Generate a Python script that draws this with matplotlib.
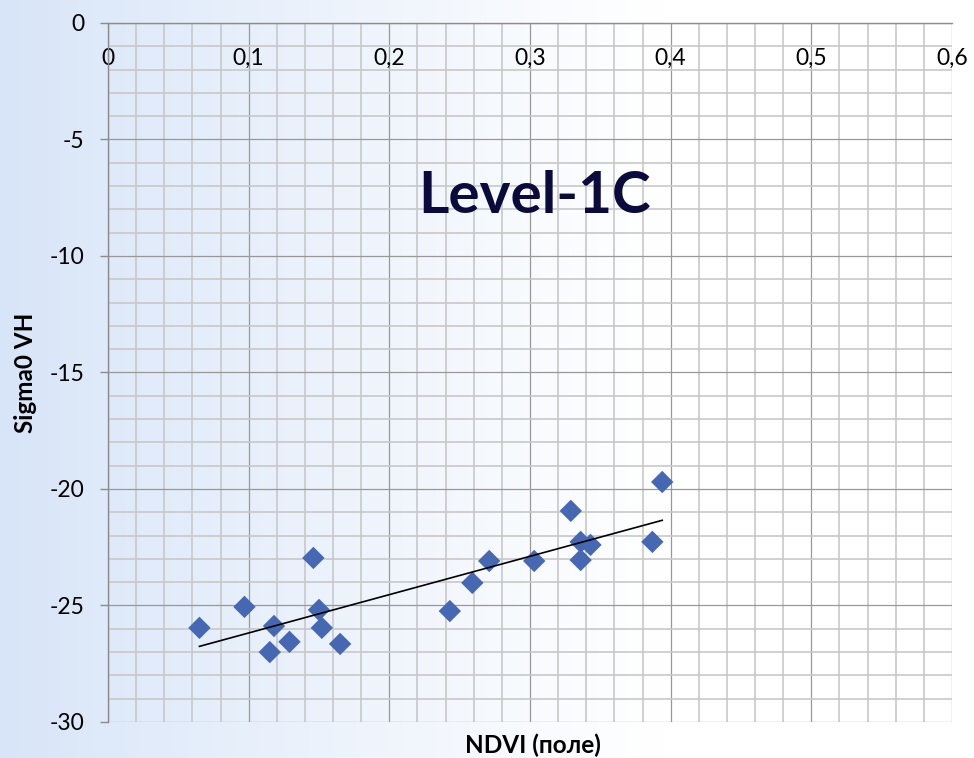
import numpy as np
import matplotlib
matplotlib.use("Agg")
import matplotlib.pyplot as plt
from matplotlib.ticker import MultipleLocator, FuncFormatter

plt.rcParams['font.family'] = ['Lato', 'Open Sans', 'DejaVu Sans']

# NDVI (field) vs Sigma0 VH, Level-1C
ndvi = [0.065, 0.097, 0.118, 0.115, 0.129, 0.146, 0.150, 0.152, 0.165,
        0.243, 0.259, 0.271, 0.303, 0.329, 0.336, 0.343, 0.336, 0.387, 0.394]
sigma0_vh = [-25.96, -25.06, -25.88, -27.0, -26.56, -22.96, -25.19, -25.96, -26.65,
             -25.24, -24.03, -23.09, -23.09, -20.94, -22.27, -22.40, -23.05, -22.27, -19.7]

fig = plt.figure(figsize=(9.74, 7.58), dpi=100)

# soft blue-to-white background across the figure
bg = fig.add_axes([0, 0, 1, 1], zorder=-10)
u = np.linspace(0, 1, 400)
fade = np.clip(1 - u / 0.68, 0, 1) ** 1.1
left = np.array([216, 229, 248]) / 255.0
rgb = 1 - (1 - left)[None, :] * fade[:, None]
bg.imshow(rgb[None, :, :], aspect='auto', extent=[0, 1, 0, 1])
bg.axis('off')

ax = fig.add_axes([0.1109, 0.0475, 0.8665, 0.9222])
ax.patch.set_alpha(0)

ax.set_xlim(0, 0.6)
ax.set_ylim(-30, 0)

ax.xaxis.set_major_locator(MultipleLocator(0.1))
ax.xaxis.set_minor_locator(MultipleLocator(0.02))
ax.yaxis.set_major_locator(MultipleLocator(5))
ax.yaxis.set_minor_locator(MultipleLocator(1))

ax.grid(which='minor', color='#c8c8c8', lw=1.2, zorder=0)
ax.grid(which='major', color='#989898', lw=0.9, zorder=0)

# x axis crosses at y = 0, labels hang below it
ax.spines['bottom'].set_position(('data', 0))
ax.spines['top'].set_visible(False)
ax.spines['right'].set_visible(False)
for s in ('bottom', 'left'):
    ax.spines[s].set_color('#8c8c8c')
    ax.spines[s].set_linewidth(1.0)

comma = FuncFormatter(lambda v, p: f"{v:g}".replace('.', ','))
ax.xaxis.set_major_formatter(comma)
ax.yaxis.set_major_formatter(FuncFormatter(lambda v, p: f"{v:g}"))
ax.tick_params(axis='x', which='both', length=0, pad=18, labelsize=16.5)
ax.tick_params(axis='y', which='major', length=6, width=1, color='#8c8c8c',
               pad=11, labelsize=16.5)
ax.tick_params(axis='y', which='minor', length=0)

ax.scatter(ndvi, sigma0_vh, marker='D', s=130, color='#4668b3',
           edgecolors='none', zorder=3)

# linear trend line
k, b = np.polyfit(ndvi, sigma0_vh, 1)
xs = np.array([min(ndvi), max(ndvi)])
ax.plot(xs, k * xs + b, color='black', lw=1.2, zorder=4)

ax.text(0.303, -7.45, 'Level-1C', ha='center', va='center',
        fontsize=42, fontweight='bold', color='#0a0a3c', zorder=5)

fig.text(0.547, 0.017, 'NDVI (поле)', ha='center', va='center',
         fontsize=17.5, fontweight='bold')
fig.text(0.026, 0.508, 'Sigma0 VH', ha='center', va='center',
         rotation=90, fontsize=17.5, fontweight='bold')

fig.savefig('out.png', dpi=100)
